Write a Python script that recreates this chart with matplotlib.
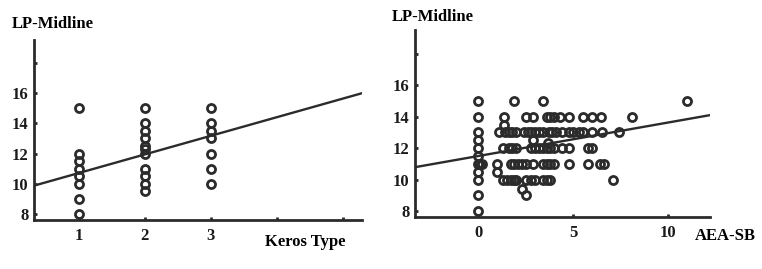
import numpy as np
import matplotlib
matplotlib.use("Agg")
from matplotlib import pyplot as plt

plt.rcParams['font.family'] = ['Liberation Serif', 'DejaVu Serif']
plt.rcParams['font.weight'] = 'bold'

# --- Data: left panel (Keros type) ---
keros_x = [1, 1, 1, 1, 1, 1, 1, 1,
           2, 2, 2, 2, 2, 2, 2, 2, 2, 2, 2,
           3, 3, 3, 3, 3, 3, 3]
keros_y = [15, 12, 11.5, 11, 10.5, 10, 9, 8,
           15, 14, 13.5, 13, 12.5, 12.3, 12, 11, 10.5, 10, 9.5,
           15, 14, 13.5, 13, 12, 11, 10]
keros_fit = (9.48, 1.23)          # intercept, slope
keros_xticks = [1, 2, 3, 4, 5]
keros_xlabels = ["1", "2", "3", "", ""]

# --- Data: right panel (AEA-SB) ---
aea_x = [0, 1.9, 3.4, 11.0,
         0, 1.35, 2.5, 2.9, 3.6, 3.8, 4.0, 4.3, 4.8, 5.5, 6.0, 6.45, 8.1,
         1.35,
         0, 1.1, 1.4, 1.6, 1.8, 2.0, 2.4, 2.6, 2.8, 3.0, 3.2, 3.4, 3.7, 3.9, 4.1,
         4.4, 4.8, 5.0, 5.3, 5.5, 6.0, 6.5, 7.4,
         0, 2.9, 3.65,
         0, 1.3, 1.6, 1.8, 2.0, 2.8, 3.0, 3.2, 3.4, 3.6, 3.8, 4.0, 4.4, 4.8, 5.8, 6.0,
         0,
         0, 0.1, 0.2, 1.0, 1.7, 1.9, 2.1, 2.3, 2.5, 2.9, 3.4, 3.6, 3.8, 4.0, 4.8,
         5.8, 6.4, 6.6,
         0, 1.0,
         0, 1.3, 1.5, 1.7, 1.9, 2.0, 2.5, 2.8, 3.0, 3.4, 3.6, 3.8, 7.1,
         2.3, 0, 2.5, 0]
aea_y = [15, 15, 15, 15,
         14, 14, 14, 14, 14, 14, 14, 14, 14, 14, 14, 14, 14,
         13.5,
         13, 13, 13, 13, 13, 13, 13, 13, 13, 13, 13, 13, 13, 13, 13,
         13, 13, 13, 13, 13, 13, 13, 13,
         12.5, 12.5, 12.35,
         12, 12, 12, 12, 12, 12, 12, 12, 12, 12, 12, 12, 12, 12, 12, 12,
         11.5,
         11, 11, 11, 11, 11, 11, 11, 11, 11, 11, 11, 11, 11, 11, 11,
         11, 11, 11,
         10.5, 10.5,
         10, 10, 10, 10, 10, 10, 10, 10, 10, 10, 10, 10, 10,
         9.4, 9, 9, 8]
aea_fit = (11.5, 0.213)
aea_xticks = [0, 5, 10]
aea_xlabels = ["0", "5", "10"]

yticks = [8, 10, 12, 14, 16, 18]
ylabels = ["8", "10", "12", "14", "16", ""]

INK = "#2b2b2b"


def style_axes(ax, xlim, ylim, xticks, xlabels):
    ax.set_xlim(*xlim); ax.set_ylim(*ylim)
    for s in ("top", "right"):
        ax.spines[s].set_visible(False)
    for s in ("left", "bottom"):
        ax.spines[s].set_linewidth(2); ax.spines[s].set_color(INK)
    ax.set_xticks(xticks); ax.set_xticklabels(xlabels)
    ax.set_yticks(yticks); ax.set_yticklabels(ylabels)
    ax.tick_params(direction="in", length=2, width=2, color=INK,
                   labelsize=12, labelcolor="#1a1a1a")
    ax.tick_params(axis="x", pad=6)
    ax.tick_params(axis="y", pad=4)


def draw_panel(ax, x, y, fit, xlim):
    ax.plot(x, y, "o", ms=5.8, mfc="none", mec=INK, mew=2.0, clip_on=False, zorder=3)
    xs = np.array(xlim)
    ax.plot(xs, fit[0] + fit[1] * xs, color=INK, lw=1.7, zorder=2)


fig = plt.figure(figsize=(7.62, 2.69), dpi=100)

ax1 = fig.add_axes([0.0446, 0.182, 0.4304, 0.669])
xl1 = (0.32, 5.29)
draw_panel(ax1, keros_x, keros_y, keros_fit, xl1)
style_axes(ax1, xl1, (7.6, 19.5), keros_xticks, keros_xlabels)
fig.text(12 / 762, 1 - 24 / 269, "LP-Midline", fontsize=12, fontweight="bold", va="center")
fig.text(265 / 762, 1 - 242 / 269, "Keros Type", fontsize=12, fontweight="bold", va="center")

ax2 = fig.add_axes([0.5446, 0.193, 0.3872, 0.695])
xl2 = (-3.33, 12.2)
draw_panel(ax2, aea_x, aea_y, aea_fit, xl2)
style_axes(ax2, xl2, (7.62, 19.5), aea_xticks, aea_xlabels)
fig.text(392 / 762, 1 - 17 / 269, "LP-Midline", fontsize=12, fontweight="bold", va="center")
fig.text(695 / 762, 1 - 236 / 269, "AEA-SB", fontsize=12, fontweight="bold", va="center")

fig.savefig("out.png", dpi=100)
